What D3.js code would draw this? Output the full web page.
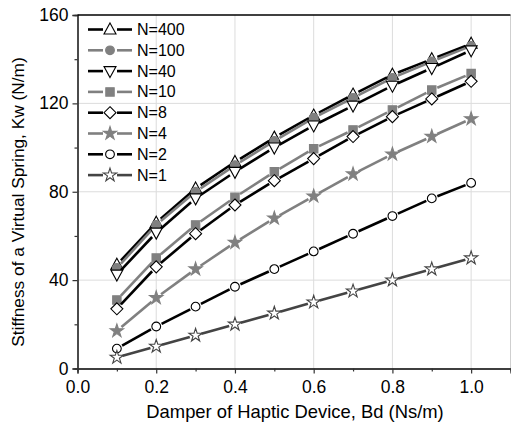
<!DOCTYPE html>
<html><head><meta charset="utf-8">
<script src="https://cdn.jsdelivr.net/npm/d3@7"></script>
<style>body{margin:0;background:#fff;}svg{display:block;font-family:"Liberation Sans",Arial,sans-serif;}</style>
</head><body>
<svg id="c" width="511" height="427"></svg>
<script>
const xValues = [0.1,0.2,0.3,0.4,0.5,0.6,0.7,0.8,0.9,1.0];
const seriesNames = ["N=400","N=100","N=40","N=10","N=8","N=4","N=2","N=1"];
const n400 = [47,66,81.5,93.5,104.5,114.5,124,133,140,147];
const n100 = [45.5,65,80,92,103,113.5,122.5,131.5,139,146];
const n40  = [42.5,61.5,77,89,100,110,119,128,136,144];
const n10  = [31,50,65,77.5,89,99.5,108,117,126,133.5];
const n8   = [27,46,61,74,85,95,105,114,122,130];
const n4   = [17,32,45,57,68,78,88,97,105,113];
const n2   = [9,19,28,37,45,53,61,69,77,84];
const n1   = [5,10,15,20,25,30,35,40,45,50];
const seriesValues = [n400,n100,n40,n10,n8,n4,n2,n1];
const xTicks = [0.0,0.2,0.4,0.6,0.8,1.0];
const yTicks = [0,40,80,120,160];

const styles = [
  {line:"#000", sym:"triUp", fill:"#fff", stroke:"#000"},
  {line:"#808080", sym:"circle", fill:"#808080", stroke:"#808080"},
  {line:"#000", sym:"triDown", fill:"#fff", stroke:"#000"},
  {line:"#808080", sym:"square", fill:"#808080", stroke:"#808080"},
  {line:"#000", sym:"diamond", fill:"#fff", stroke:"#000"},
  {line:"#808080", sym:"star", fill:"#808080", stroke:"#808080"},
  {line:"#000", sym:"circle", fill:"#fff", stroke:"#000"},
  {line:"#444", sym:"star", fill:"#fff", stroke:"#444"}
];

const svg = d3.select("#c");
const x = d3.scaleLinear().domain([0,1.1]).range([77.5,510.5]);
const y = d3.scaleLinear().domain([0,160]).range([368.5,15]);

// grid
const g = svg.append("g");
g.selectAll("line.vg").data(xTicks.filter(d=>d>0)).join("line")
  .attr("x1",d=>x(d)).attr("x2",d=>x(d)).attr("y1",y(0)).attr("y2",y(160))
  .attr("stroke","#dcdcdc").attr("stroke-width",1);
g.selectAll("line.hg").data(yTicks.filter(d=>d>0&&d<160)).join("line")
  .attr("x1",x(0)).attr("x2",x(1.1)).attr("y1",d=>y(d)).attr("y2",d=>y(d))
  .attr("stroke","#dcdcdc").attr("stroke-width",1);
// right frame (light)
svg.append("line").attr("x1",x(1.1)).attr("x2",x(1.1)).attr("y1",y(160)).attr("y2",y(0)).attr("stroke","#cfcfcf").attr("stroke-width",1);

// axes
const xAxis = d3.axisBottom(x).tickValues(xTicks).tickFormat(d3.format(".1f")).tickSize(5).tickPadding(7);
const xMinor = d3.axisBottom(x).tickValues(d3.range(0.1,1.1,0.2)).tickFormat("").tickSize(3);
const yAxis = d3.axisLeft(y).tickValues(yTicks).tickFormat(d3.format("d")).tickSize(5).tickPadding(4);
const yMinor = d3.axisLeft(y).tickValues([20,60,100,140]).tickFormat("").tickSize(3);

function styleAxis(sel){
  sel.select(".domain").attr("stroke","#333").attr("stroke-width",1.3);
  sel.selectAll(".tick line").attr("stroke","#333").attr("stroke-width",1.2);
  sel.selectAll(".tick text").attr("fill","#000").style("font-size","17.5px").style("font-family","'Liberation Sans',Arial,sans-serif");
}
svg.append("g").attr("transform",`translate(0,${y(0)})`).call(xAxis).call(styleAxis);
svg.append("g").attr("transform",`translate(0,${y(0)})`).call(xMinor).call(styleAxis);
svg.append("g").attr("transform",`translate(${x(0)},0)`).call(yAxis).call(styleAxis);
svg.append("g").attr("transform",`translate(${x(0)},0)`).call(yMinor).call(styleAxis);
// top frame
svg.append("line").attr("x1",x(0)).attr("x2",x(1.1)).attr("y1",y(160)).attr("y2",y(160)).attr("stroke","#000").attr("stroke-width",1.3);

// axis titles
svg.append("text").attr("x",295).attr("y",418).attr("text-anchor","middle")
  .style("font-size","18.4px").text("Damper of Haptic Device, Bd (Ns/m)");
svg.append("text").attr("transform",`translate(23.5,202) rotate(-90)`).attr("text-anchor","middle")
  .style("font-size","17.3px").text("Stiffness of a Virtual Spring, Kw (N/m)");

// symbols
function symPath(t){
  switch(t){
    case "triUp": return "M0,-6.5L6,4.5L-6,4.5Z";
    case "triDown": return "M0,6.5L6,-4.5L-6,-4.5Z";
    case "circle": return d3.symbol(d3.symbolCircle, 60)();
    case "square": return "M-4.2,-4.2H4.2V4.2H-4.2Z";
    case "diamond": return "M0,-6L6,0L0,6L-6,0Z";
    case "star": return d3.symbol(d3.symbolStar, 55)();
  }
}

const gap = 6;
function drawSeries(i){
  const vals = seriesValues[i], st = styles[i];
  const pts = xValues.map((xv,j)=>[x(xv), y(vals[j])]);
  const gs = svg.append("g");
  for(let j=0;j<pts.length-1;j++){
    const [x1,y1]=pts[j],[x2,y2]=pts[j+1];
    const dx=x2-x1, dy=y2-y1, L=Math.hypot(dx,dy);
    const ux=dx/L, uy=dy/L;
    gs.append("line").attr("x1",x1+ux*gap).attr("y1",y1+uy*gap)
      .attr("x2",x2-ux*gap).attr("y2",y2-uy*gap)
      .attr("stroke",st.line).attr("stroke-width",2.6);
  }
  gs.selectAll("path").data(pts).join("path")
    .attr("transform",d=>`translate(${d[0]},${d[1]})`)
    .attr("d",symPath(st.sym)).attr("fill",st.fill).attr("stroke",st.stroke).attr("stroke-width",1.1);
}
for(let i=0;i<seriesValues.length;i++) drawSeries(i);

// legend
const lg = svg.append("g");
seriesNames.forEach((name,i)=>{
  const st = styles[i];
  const yy = 29.5 + i*20.8;
  lg.append("line").attr("x1",88).attr("x2",103).attr("y1",yy).attr("y2",yy).attr("stroke",st.line).attr("stroke-width",2.6);
  lg.append("line").attr("x1",117).attr("x2",132).attr("y1",yy).attr("y2",yy).attr("stroke",st.line).attr("stroke-width",2.6);
  lg.append("path").attr("transform",`translate(110,${yy})`).attr("d",symPath(st.sym))
    .attr("fill",st.fill).attr("stroke",st.stroke).attr("stroke-width",1.1);
  lg.append("text").attr("x",137).attr("y",yy+5.5).style("font-size","16px").text(name);
});
</script>
</body></html>
